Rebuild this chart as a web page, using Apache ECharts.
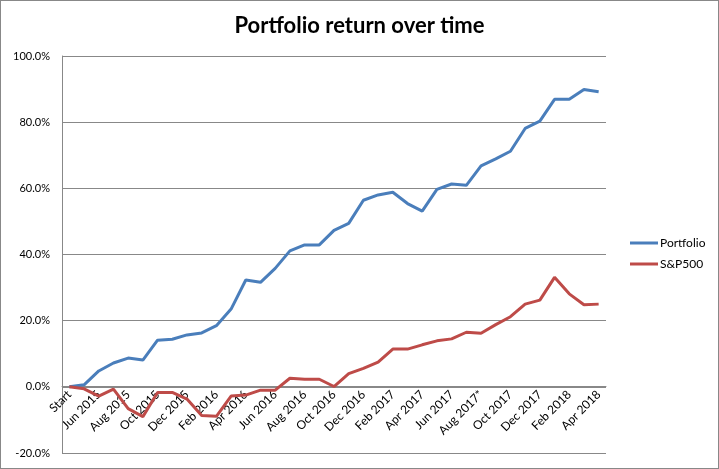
<!DOCTYPE html>
<html><head><meta charset="utf-8">
<script src="https://cdn.jsdelivr.net/npm/echarts@6/dist/echarts.min.js"></script>
<style>html,body{margin:0;padding:0;background:#fff}#c{width:719px;height:469px;box-sizing:border-box;border:1px solid #888}</style>
</head><body><div id="c"></div>
<script>
const categories = ["Start","May 2015","Jun 2015","Jul 2015","Aug 2015","Sep 2015","Oct 2015","Nov 2015","Dec 2015","Jan 2016","Feb 2016","Mar 2016","Apr 2016","May 2016","Jun 2016","Jul 2016","Aug 2016","Sep 2016","Oct 2016","Nov 2016","Dec 2016","Jan 2017","Feb 2017","Mar 2017","Apr 2017","May 2017","Jun 2017","Jul 2017","Aug 2017*","Sep 2017","Oct 2017","Nov 2017","Dec 2017","Jan 2018","Feb 2018","Mar 2018","Apr 2018"];
const portfolio = [0,0.6,4.8,7.2,8.7,8.1,14.1,14.4,15.7,16.3,18.5,23.5,32.3,31.6,35.8,41.1,42.9,42.9,47.3,49.4,56.4,58.0,58.8,55.4,53.1,59.7,61.3,60.9,66.8,68.9,71.2,78.1,80.3,86.9,86.9,89.9,89.2];
const sp500 = [0,-0.6,-2.8,-0.7,-6.6,-9.0,-1.7,-1.7,-3.7,-8.7,-8.9,-2.8,-2.5,-1.0,-1.0,2.6,2.3,2.3,0.1,4.0,5.6,7.5,11.4,11.4,12.7,13.9,14.5,16.5,16.2,18.8,21.2,25.0,26.2,33.1,28.1,24.8,25.0];
const yTicks = {min:-20,max:100,interval:20};

const chart = echarts.init(document.getElementById('c'));
const font = 'Lato, "Open Sans", sans-serif';
const gTop = 55, gBottom = 15, H = 469;
const plotH = H - gTop - gBottom;
const zeroShift = plotH * (0 - yTicks.min) / (yTicks.max - yTicks.min);
chart.setOption({
  animation:false,
  title:{text:'Portfolio return over time',left:'center',top:9,textStyle:{fontFamily:font,fontSize:22,fontWeight:'bold',color:'#000'}},
  grid:{left:61,right:112,top:gTop,bottom:gBottom,outerBoundsMode:'none'},
  legend:{orient:'vertical',left:624,top:231,itemWidth:28,itemHeight:3,icon:'rect',itemGap:9,
    textStyle:{fontFamily:font,fontSize:12,color:'#000',padding:[0,0,0,-3]},data:['Portfolio','S&P500']},
  xAxis:{type:'category',data:categories,boundaryGap:true,offset:-zeroShift,z:0,
    axisLine:{onZero:false,lineStyle:{color:'#888'}},axisTick:{show:false},
    axisLabel:{interval:1,rotate:45,fontFamily:font,fontSize:12,color:'#000',margin:6}},
  yAxis:{type:'value',min:yTicks.min,max:yTicks.max,interval:yTicks.interval,z:0,
    axisLine:{show:true,lineStyle:{color:'#888'}},axisTick:{show:false},
    splitLine:{lineStyle:{color:'#888'}},
    axisLabel:{formatter:v=>v.toFixed(1)+'%',fontFamily:font,fontSize:11,color:'#000',margin:12}},
  series:[
    {name:'Portfolio',type:'line',z:10,data:portfolio,symbol:'none',lineStyle:{width:3,color:'#4a7ebb'},itemStyle:{color:'#4a7ebb'}},
    {name:'S&P500',type:'line',z:10,data:sp500,symbol:'none',lineStyle:{width:3,color:'#be4b48'},itemStyle:{color:'#be4b48'}}
  ]
});
</script></body></html>
